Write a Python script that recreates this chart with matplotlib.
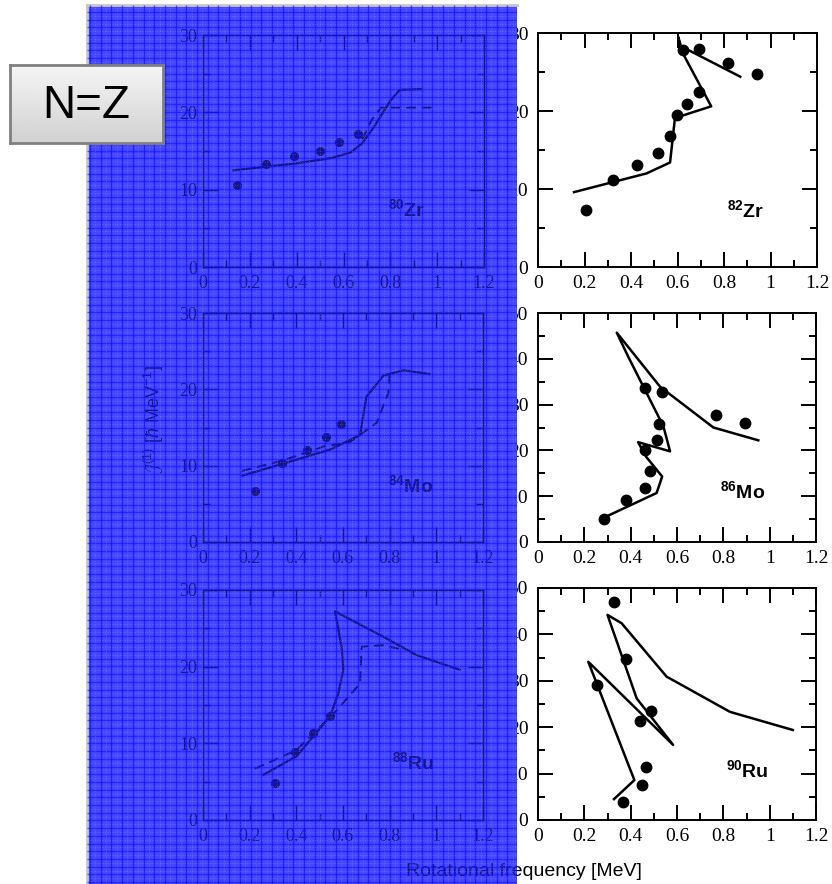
import numpy as np
import matplotlib.pyplot as plt
from matplotlib.ticker import MultipleLocator, FixedLocator, FixedFormatter
from matplotlib.transforms import Bbox, TransformedBbox

plt.rcParams['mathtext.fontset'] = 'custom'
plt.rcParams['mathtext.rm'] = 'Liberation Sans'
plt.rcParams['mathtext.bf'] = 'Liberation Sans:bold'
plt.rcParams['mathtext.it'] = 'Liberation Sans:italic'

# ticks shared by all panels
xticks = [0, 0.2, 0.4, 0.6, 0.8, 1.0, 1.2]
xtick_labels = ['0', '0.2', '0.4', '0.6', '0.8', '1', '1.2']

# --- left column (old calculation) ---
zr80_exp_x = [0.145, 0.27, 0.39, 0.50, 0.58, 0.66]
zr80_exp_y = [10.6, 13.3, 14.4, 15.0, 16.2, 17.2]
zr80_solid_x = [0.13, 0.25, 0.40, 0.55, 0.63, 0.68, 0.73, 0.80, 0.84, 0.93]
zr80_solid_y = [12.5, 12.9, 13.4, 14.1, 14.8, 16.0, 18.1, 21.5, 22.9, 23.0]
zr80_dash_x = [0.68, 0.72, 0.76, 0.85, 0.98]
zr80_dash_y = [16.5, 19.0, 20.6, 20.6, 20.6]

mo84_exp_x = [0.223, 0.337, 0.447, 0.526, 0.593]
mo84_exp_y = [6.7, 10.4, 12.0, 13.7, 15.5]
mo84_solid_x = [0.17, 0.337, 0.544, 0.673, 0.70, 0.773, 0.86, 0.97]
mo84_solid_y = [8.7, 10.2, 12.1, 14.0, 19.0, 21.8, 22.5, 22.0]
mo84_dash_x = [0.166, 0.344, 0.516, 0.63, 0.744, 0.794, 0.80]
mo84_dash_y = [9.3, 10.7, 12.5, 13.1, 15.6, 19.5, 21.9]

ru88_exp_x = [0.309, 0.394, 0.473, 0.544]
ru88_exp_y = [4.8, 8.9, 11.3, 13.6]
ru88_solid_x = [0.259, 0.40, 0.47, 0.544, 0.58, 0.601, 0.594, 0.566, 0.773, 0.916, 1.10]
ru88_solid_y = [5.9, 8.3, 10.8, 13.5, 16.5, 19.6, 22.6, 27.2, 23.9, 21.5, 19.6]
ru88_dash_x = [0.223, 0.40, 0.573, 0.673, 0.68, 0.77, 0.86]
ru88_dash_y = [6.7, 9.1, 14.3, 17.8, 22.6, 22.8, 22.2]

# --- right column (new calculation) ---
zr82_exp_x = [0.206, 0.324, 0.427, 0.516, 0.569, 0.596, 0.643, 0.692, 0.622, 0.694, 0.818, 0.94]
zr82_exp_y = [7.3, 11.2, 13.1, 14.6, 16.8, 19.5, 20.9, 22.4, 27.8, 28.0, 26.1, 24.7]
zr82_calc_x = [0.155, 0.324, 0.467, 0.568, 0.589, 0.745, 0.612, 0.603, 0.615, 0.87]
zr82_calc_y = [9.6, 10.9, 12.0, 13.4, 19.1, 20.6, 28.0, 29.5, 28.3, 24.4]

mo86_exp_x = [0.285, 0.38, 0.463, 0.485, 0.463, 0.515, 0.522, 0.463, 0.536, 0.768, 0.893]
mo86_exp_y = [5.1, 9.2, 11.7, 15.5, 20.1, 22.2, 25.8, 33.6, 32.7, 27.8, 26.0]
mo86_calc_x = [0.271, 0.512, 0.536, 0.467, 0.432, 0.57, 0.541, 0.39, 0.34, 0.527, 0.757, 0.951]
mo86_calc_y = [5.0, 10.7, 14.3, 18.6, 21.8, 19.8, 25.3, 40.4, 45.7, 33.9, 25.0, 22.2]

ru90_exp_x = [0.327, 0.382, 0.256, 0.486, 0.44, 0.468, 0.449, 0.368]
ru90_exp_y = [47.0, 34.8, 29.1, 23.5, 21.3, 11.5, 7.5, 3.9]
ru90_calc_x = [0.328, 0.416, 0.217, 0.583, 0.426, 0.30, 0.361, 0.555, 0.829, 1.10]
ru90_calc_y = [4.5, 8.6, 34.1, 16.2, 26.2, 44.2, 42.4, 30.9, 23.3, 19.4]

W, H = 832, 884
fig = plt.figure(figsize=(W / 100, H / 100), dpi=100)


def px_rect(x0, y0, x1, y1):
    # pixel box (top-left origin) -> figure fraction rect
    return [x0 / W, 1 - y1 / H, (x1 - x0) / W, (y1 - y0) / H]


def style_panel(ax, ymax, ink, fsize, ypad):
    ax.set_xlim(0, 1.2)
    ax.set_ylim(0, ymax)
    ax.xaxis.set_major_locator(FixedLocator(xticks))
    ax.xaxis.set_major_formatter(FixedFormatter(xtick_labels))
    ax.xaxis.set_minor_locator(MultipleLocator(0.1))
    ax.yaxis.set_major_locator(MultipleLocator(10))
    ax.yaxis.set_minor_locator(MultipleLocator(5))
    ax.tick_params(which='both', direction='in', top=True, right=True,
                   color=ink, labelcolor=ink, width=1.4)
    ax.tick_params(which='major', length=11)
    ax.tick_params(which='minor', length=5)
    ax.tick_params(axis='x', which='major', pad=6)
    ax.tick_params(axis='y', which='major', pad=ypad)
    for lab in ax.get_xticklabels() + ax.get_yticklabels():
        lab.set_fontfamily('Liberation Serif')
        lab.set_fontsize(fsize)
    for sp in ax.spines.values():
        sp.set_color(ink)
        sp.set_linewidth(1.4)


def panel_label(ax, x, y, mass, elem, ink):
    ax.text(x, y, r'$^{\mathbf{' + mass + '}}$' + elem, transform=ax.transAxes,
            fontsize=14, fontweight='bold', family='Liberation Sans', color=ink,
            va='baseline')


# right column (below the blue sheet)
right_ink = 'black'
right_panels = [
    (px_rect(538, 33, 817, 267), 30, zr82_exp_x, zr82_exp_y, zr82_calc_x, zr82_calc_y, '82', 'Zr', 0.677, 0.214),
    (px_rect(538, 313, 816, 542), 50, mo86_exp_x, mo86_exp_y, mo86_calc_x, mo86_calc_y, '86', 'Mo', 0.655, 0.19),
    (px_rect(538, 588, 816, 820), 50, ru90_exp_x, ru90_exp_y, ru90_calc_x, ru90_calc_y, '90', 'Ru', 0.676, 0.185),
]
for rect, ymax, ex, ey, cx, cy, mass, elem, lx, ly in right_panels:
    ax = fig.add_axes(rect, zorder=0)
    ax.plot(cx, cy, color=right_ink, lw=1.8)
    ax.plot(ex, ey, 'o', color=right_ink, ms=7.5)
    style_panel(ax, ymax, right_ink, 14, 7)
    panel_label(ax, lx, ly, mass, elem, right_ink)

# blue sheet
blue_rect = px_rect(87, 5, 517, 884)
ax_bg = fig.add_axes(blue_rect, zorder=1)
ax_bg.set_facecolor('#4747ff')
ax_bg.set_xticks([])
ax_bg.set_yticks([])
for side in ['right', 'bottom']:
    ax_bg.spines[side].set_visible(False)
for side in ['top', 'left']:
    ax_bg.spines[side].set_color('#c8c8c8')
    ax_bg.spines[side].set_linewidth(2)

# left column, seen through the blue sheet
left_ink = '#16167e'
left_panels = [
    (px_rect(203, 35, 484, 267), zr80_exp_x, zr80_exp_y, zr80_solid_x, zr80_solid_y, zr80_dash_x, zr80_dash_y, '80', 'Zr', 0.658, 0.22),
    (px_rect(203, 313, 483, 542), mo84_exp_x, mo84_exp_y, mo84_solid_x, mo84_solid_y, mo84_dash_x, mo84_dash_y, '84', 'Mo', 0.66, 0.218),
    (px_rect(203, 590, 483, 820), ru88_exp_x, ru88_exp_y, ru88_solid_x, ru88_solid_y, ru88_dash_x, ru88_dash_y, '88', 'Ru', 0.675, 0.22),
]
for rect, ex, ey, sx, sy, dx, dy, mass, elem, lx, ly in left_panels:
    ax = fig.add_axes(rect, zorder=2)
    ax.set_facecolor('none')
    ax.plot(sx, sy, color=left_ink, lw=1.6)
    ax.plot(dx, dy, color=left_ink, lw=1.4, ls=(0, (5, 3)))
    ax.plot(ex, ey, 'o', color=left_ink, ms=5.5)
    style_panel(ax, 30, left_ink, 13, 4)
    ax.tick_params(which='both', width=1.0)
    for sp in ax.spines.values():
        sp.set_linewidth(1.0)
    panel_label(ax, lx, ly, mass, elem, left_ink)

# grid texture of the blue sheet, on top of the left column
ax_gr = fig.add_axes(blue_rect, zorder=3)
ax_gr.set_facecolor('none')
ax_gr.set_axis_off()
ax_gr.set_xlim(0, 430)
ax_gr.set_ylim(0, 879)
ax_gr.vlines(np.arange(3, 430, 10.7), 0, 879, color='#1010ff', lw=1.0, alpha=0.7)
ax_gr.hlines(np.arange(2, 879, 7.7), 0, 430, color='#1010ff', lw=1.0, alpha=0.6)
ax_gr.vlines(np.arange(8.3, 430, 10.7), 0, 879, color='#b0b0ff', lw=0.6, alpha=0.35, ls=(0, (1, 2)))
ax_gr.hlines(np.arange(5.8, 879, 7.7), 0, 430, color='#b0b0ff', lw=0.6, alpha=0.35, ls=(0, (1, 2)))

# axis titles
clip = TransformedBbox(Bbox.from_bounds(*blue_rect), fig.transFigure)
xlab = 'Rotational frequency [MeV]'
fig.text(524 / W, 1 - 871 / H, xlab, ha='center', va='center', fontsize=14,
         family='Liberation Sans', color='black', zorder=0.5)
t = fig.text(524 / W, 1 - 871 / H, xlab, ha='center', va='center', fontsize=14,
             family='Liberation Sans', color=left_ink, zorder=2.5)
t.set_clip_box(clip)
fig.text(154 / W, 1 - 420 / H, r'$\mathcal{J}^{(1)}$ [$\hbar$ MeV$^{-1}$]', rotation=90,
         ha='center', va='center', fontsize=13, family='Liberation Sans',
         color=left_ink, zorder=2.5)

# "N=Z" box
ax_nz = fig.add_axes(px_rect(10, 65, 163, 143), zorder=10)
grad = np.linspace(0.96, 0.82, 50).reshape(-1, 1)
ax_nz.imshow(grad, cmap='gray', vmin=0, vmax=1, aspect='auto', extent=(0, 1, 0, 1))
ax_nz.set_xticks([])
ax_nz.set_yticks([])
for sp in ax_nz.spines.values():
    sp.set_color('#808080')
    sp.set_linewidth(2)
ax_nz.text(0.5, 0.48, 'N=Z', ha='center', va='center', fontsize=33,
           family='Liberation Sans', transform=ax_nz.transAxes)

fig.savefig('out.png', dpi=100)
